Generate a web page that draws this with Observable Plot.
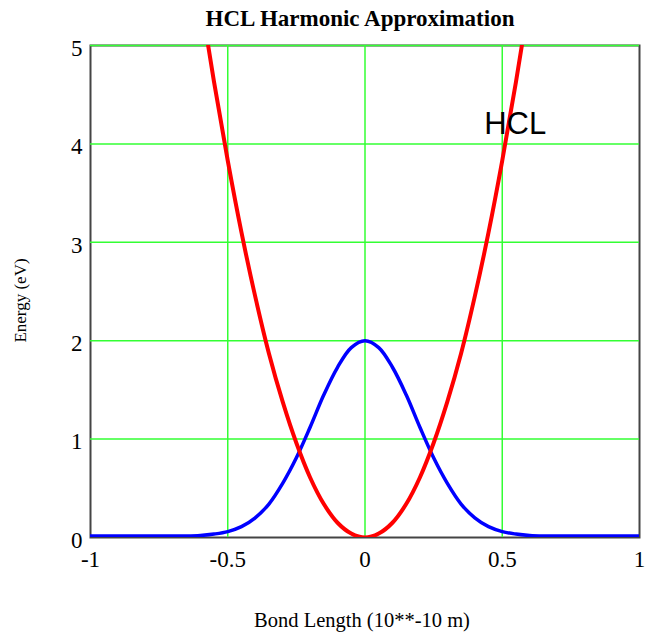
<!DOCTYPE html>
<html><head><meta charset="utf-8">
<script src="https://cdn.jsdelivr.net/npm/d3@7"></script>
<script src="https://cdn.jsdelivr.net/npm/@observablehq/plot@0.6"></script>
<style>body{margin:0;background:#fff}</style>
</head><body><div id="chart"></div>
<script>
const title = "HCL Harmonic Approximation";
const xLabel = "Bond Length (10**-10 m)";
const yLabel = "Energy (eV)";
const curveLabel = "HCL";
const xTicks = [-1, -0.5, 0, 0.5, 1];
const yTicks = [0, 1, 2, 3, 4, 5];
const xGrid = [-0.5, 0, 0.5];
const yGrid = [1, 2, 3, 4, 5];

// Harmonic potential (red)
const redX = [-0.6, -0.55, -0.5, -0.45, -0.4, -0.35, -0.3, -0.25, -0.2, -0.15, -0.1, -0.05, 0,
              0.05, 0.1, 0.15, 0.2, 0.25, 0.3, 0.35, 0.4, 0.45, 0.5, 0.55, 0.6];
const redE = [5.51, 4.63, 3.83, 3.10, 2.45, 1.87, 1.38, 0.96, 0.61, 0.34, 0.15, 0.04, 0,
              0.04, 0.15, 0.34, 0.61, 0.96, 1.38, 1.87, 2.45, 3.10, 3.83, 4.63, 5.51];

// Ground state (blue)
const blueX = [-1, -0.9, -0.8, -0.7, -0.65, -0.6, -0.55, -0.5, -0.45, -0.4, -0.35, -0.3, -0.25, -0.2, -0.15, -0.1, -0.05, 0,
               0.05, 0.1, 0.15, 0.2, 0.25, 0.3, 0.35, 0.4, 0.45, 0.5, 0.55, 0.6, 0.65, 0.7, 0.8, 0.9, 1];
const blueE = [0.015, 0.015, 0.015, 0.015, 0.015, 0.02, 0.035, 0.06, 0.11, 0.20, 0.34, 0.55, 0.81, 1.12, 1.45, 1.73, 1.93, 2.00,
               1.93, 1.73, 1.45, 1.12, 0.81, 0.55, 0.34, 0.20, 0.11, 0.06, 0.035, 0.02, 0.015, 0.015, 0.015, 0.015, 0.015];

const red = redX.map((x, i) => ({x, e: redE[i]}));
const blue = blueX.map((x, i) => ({x, e: blueE[i]}));

const serif = "Liberation Serif, Times New Roman, serif";
const green = "#33ff33";

const chart = Plot.plot({
  width: 648,
  height: 633,
  marginLeft: 90,
  marginRight: 9,
  marginTop: 45,
  marginBottom: 96,
  style: {fontFamily: serif, background: "white", overflow: "visible"},
  x: {domain: [-1, 1]},
  y: {domain: [0, 5]},
  marks: [
    Plot.frame({stroke: "#444", strokeWidth: 2}),
    Plot.gridX({ticks: xGrid, stroke: green, strokeOpacity: 1, strokeWidth: 1.5}),
    Plot.gridY({ticks: yGrid, stroke: green, strokeOpacity: 1, strokeWidth: 1.5}),
    Plot.line(blue, {x: "x", y: "e", stroke: "#0000ff", strokeWidth: 3.5, curve: "catmull-rom", clip: true}),
    Plot.line(red, {x: "x", y: "e", stroke: "#ff0000", strokeWidth: 4, curve: "catmull-rom", clip: true}),
    Plot.axisX({ticks: xTicks, tickSize: 0, tickPadding: 13, fontSize: 23, tickFormat: d => String(d), label: null, fill: "#000"}),
    Plot.axisY({ticks: yTicks, tickSize: 0, tickPadding: 8, fontSize: 23, dy: 3, tickFormat: d => String(d), label: null, fill: "#000"}),
    Plot.text([curveLabel], {x: 0.434, y: 4.10, text: d => d, textAnchor: "start", lineAnchor: "bottom",
      fontSize: 31, fontFamily: "Liberation Sans, Arial, sans-serif", fill: "#000"}),
    Plot.text([title], {frameAnchor: "top", text: d => d, dy: -20, dx: -5, lineAnchor: "bottom",
      fontSize: 23, fontWeight: "bold", fill: "#000"}),
    Plot.text([xLabel], {frameAnchor: "bottom", text: d => d, dy: 89, dx: -3, lineAnchor: "bottom",
      fontSize: 20.5, fill: "#000"}),
    Plot.text([yLabel], {frameAnchor: "left", text: d => d, dx: -70, dy: 9, rotate: -90, textAnchor: "middle", lineAnchor: "middle",
      fontSize: 17, fill: "#000"})
  ]
});
document.getElementById("chart").append(chart);
</script>
</body></html>
